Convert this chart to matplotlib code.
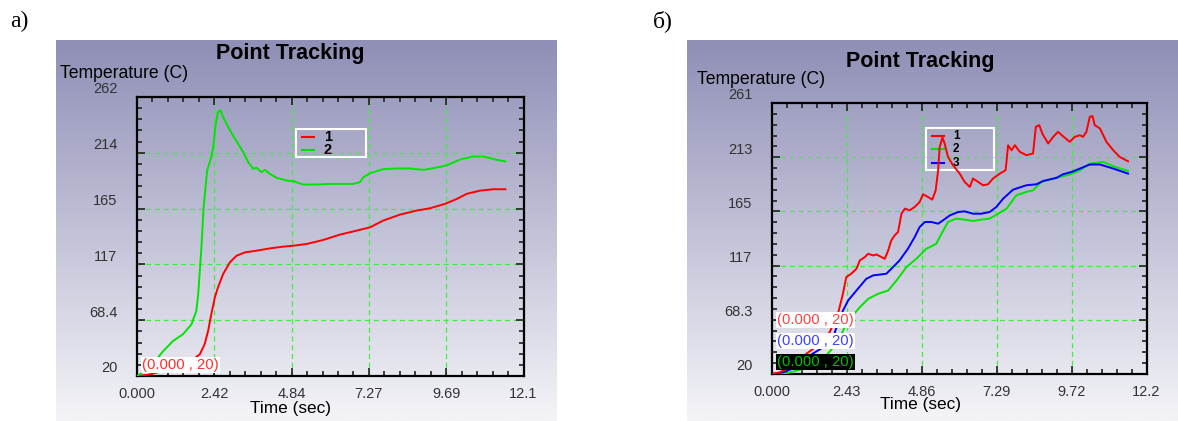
import matplotlib
matplotlib.use('Agg')
import matplotlib.pyplot as plt
import matplotlib.transforms as mtransforms
from matplotlib.patches import Rectangle
from matplotlib.lines import Line2D
import numpy as np

# Panel a): two tracking points
t_a_green = [0, 0.40, 0.82, 1.13, 1.44, 1.71, 1.86, 1.92, 2.02, 2.09, 2.20, 2.33, 2.39, 2.47,
             2.54, 2.62, 2.70, 2.86, 3.01, 3.17, 3.33, 3.49, 3.64, 3.75, 3.90, 4.01, 4.17,
             4.38, 4.69, 4.90, 5.21, 5.63, 6.05, 6.47, 6.78, 6.99, 7.10, 7.31, 7.72, 8.14,
             8.56, 8.98, 9.19, 9.71, 10.13, 10.55, 10.86, 11.28, 11.55]
T_a_green = [20, 27.2, 41.6, 50.4, 56.2, 64.9, 76.5, 91.0, 131.6, 166.4, 198.2, 209.8, 218.5,
             238.8, 249.0, 250.4, 244.6, 235.9, 228.6, 221.4, 214.2, 205.5, 199.7, 200.6,
             196.8, 198.8, 195.3, 191.9, 189.5, 189.0, 186.1, 186.1, 186.6, 186.6, 186.6,
             188.1, 192.4, 195.9, 199.4, 200.0, 200.0, 198.8, 199.7, 202.6, 207.8, 210.4,
             210.4, 207.5, 206.1]
t_a_red = [0, 0.40, 0.82, 1.34, 1.76, 1.97, 2.12, 2.23, 2.33, 2.44, 2.54, 2.70, 2.91, 3.12,
           3.38, 3.75, 4.17, 4.58, 4.90, 5.32, 5.84, 6.36, 6.89, 7.31, 7.72, 8.25, 8.77,
           9.19, 9.66, 10.03, 10.34, 10.76, 11.18, 11.55]
T_a_red = [20, 21.4, 24.3, 28.7, 34.5, 38.8, 47.5, 59.1, 73.6, 88.1, 96.8, 108.4, 118.5,
           124.3, 127.2, 128.7, 130.7, 132.2, 133.0, 134.5, 138.0, 142.6, 146.1, 149.0,
           154.8, 160.0, 163.5, 165.5, 169.3, 173.6, 178.0, 180.8, 182.0, 182.0]

# Panel б): three tracking points
t_b_red = [0, 0.25, 0.68, 1.11, 1.55, 1.87, 2.14, 2.30, 2.41, 2.57, 2.74, 2.85, 3.01, 3.12,
           3.28, 3.39, 3.66, 3.77, 3.87, 3.98, 4.09, 4.20, 4.31, 4.47, 4.63, 4.79, 4.90,
           5.06, 5.20, 5.31, 5.39, 5.44, 5.53, 5.60, 5.71, 5.87, 6.09, 6.25, 6.42, 6.52,
           6.69, 6.85, 7.01, 7.17, 7.39, 7.58, 7.66, 7.77, 7.88, 8.04, 8.25, 8.47, 8.56,
           8.67, 8.77, 8.96, 9.12, 9.28, 9.44, 9.66, 9.82, 9.99, 10.09, 10.20, 10.31, 10.40,
           10.47, 10.64, 10.85, 11.07, 11.28, 11.55]
T_b_red = [20, 21.5, 27.4, 37.9, 46.8, 57.2, 73.6, 91.4, 106.3, 109.3, 113.7, 121.2, 124.1,
           127.1, 125.6, 126.5, 122.6, 130.1, 139.0, 143.5, 146.5, 162.8, 167.3, 165.8,
           168.8, 173.2, 180.1, 177.7, 175.3, 183.6, 201.5, 222.3, 230.7, 225.3, 213.4,
           206.0, 198.5, 191.1, 186.6, 194.1, 191.1, 188.1, 189.0, 194.1, 198.5, 201.5,
           223.8, 219.3, 223.8, 217.9, 214.9, 216.4, 240.2, 241.7, 234.2, 225.3, 231.2,
           235.7, 231.8, 226.8, 231.2, 232.7, 231.2, 235.7, 249.1, 249.7, 241.7, 238.7,
           226.8, 219.3, 213.4, 209.5]
t_b_blue = [0, 0.36, 0.79, 1.22, 1.66, 1.98, 2.25, 2.47, 2.74, 3.06, 3.28, 3.71, 3.87, 4.14,
            4.41, 4.63, 4.79, 4.96, 5.17, 5.39, 5.55, 5.77, 6.04, 6.25, 6.52, 6.79, 7.06,
            7.28, 7.50, 7.82, 8.25, 8.58, 8.80, 9.23, 9.44, 9.72, 9.99, 10.31, 10.64, 11.07,
            11.55]
T_b_blue = [20, 21.5, 26.0, 36.4, 43.8, 52.7, 73.6, 85.5, 94.4, 104.8, 107.8, 109.3, 113.7,
            121.2, 131.6, 142.0, 150.9, 155.4, 155.4, 153.9, 156.9, 161.3, 164.3, 164.9,
            162.8, 162.8, 164.3, 168.8, 176.2, 184.2, 188.1, 189.0, 192.0, 194.7, 197.9,
            200.0, 203.0, 206.6, 206.6, 203.0, 198.5]
t_b_green = [0, 0.47, 1.01, 1.66, 2.09, 2.36, 2.57, 2.85, 3.12, 3.44, 3.77, 4.04, 4.36, 4.68,
             5.01, 5.33, 5.50, 5.71, 5.98, 6.25, 6.52, 6.79, 7.06, 7.34, 7.61, 7.93, 8.25,
             8.47, 8.74, 9.23, 9.66, 9.99, 10.31, 10.74, 11.07, 11.55]
T_b_green = [20, 20.6, 24.5, 33.4, 46.8, 61.7, 70.6, 79.5, 86.9, 91.4, 94.4, 103.3, 115.2,
             122.6, 131.6, 136.0, 145.0, 155.4, 158.4, 157.5, 156.3, 157.5, 158.4, 162.8,
             167.3, 179.2, 182.2, 183.6, 191.1, 194.9, 197.6, 201.5, 207.4, 208.9, 205.1,
             200.9]

# Axis ticks and labels
xticks_a = [0, 2.424, 4.848, 7.272, 9.696, 12.12]
xlabels_a = ['0.000', '2.42', '4.84', '7.27', '9.69', '12.1']
yticks_a = [20, 68.4, 116.8, 165.2, 213.6, 262]
ylabels_a = ['20', '68.4', '117', '165', '214', '262']
xticks_b = [0, 2.43, 4.86, 7.29, 9.72, 12.15]
xlabels_b = ['0.000', '2.43', '4.86', '7.29', '9.72', '12.2']
yticks_b = [20, 68.28, 116.56, 164.84, 213.12, 261.4]
ylabels_b = ['20', '68.3', '117', '165', '213', '261']

W, H = 1178, 421
fig = plt.figure(figsize=(W / 100, H / 100), dpi=100)
fig.patch.set_facecolor('white')


def px(x, y):
    return x / W, 1 - y / H


def box(x0, y0, x1, y1):
    return [x0 / W, 1 - y1 / H, (x1 - x0) / W, (y1 - y0) / H]


# gradient backgrounds
top = np.array([143, 143, 183]) / 255
bot = np.array([244, 244, 248]) / 255
g = np.linspace(0, 1, 256)[:, None]
grad = (top[None, :] * (1 - g) + bot[None, :] * g)[:, None, :]
for rect in [box(56, 40, 557, 421), box(687, 40, 1178, 421)]:
    bg = fig.add_axes(rect, zorder=0)
    bg.imshow(grad, aspect='auto', extent=[0, 1, 0, 1], interpolation='bilinear')
    bg.axis('off')

sans = ['Liberation Sans', 'DejaVu Sans']
grid_col = '#3ef03e'


def setup(ax, xticks, xlabels, yticks, ylabels):
    ax.set_facecolor('none')
    ax.set_xlim(xticks[0], xticks[-1])
    ax.set_ylim(yticks[0], yticks[-1])
    ax.set_xticks(xticks)
    ax.set_xticklabels(xlabels)
    ax.set_yticks(yticks)
    ax.set_yticklabels(ylabels)
    dx = (xticks[1] - xticks[0]) / 5
    dy = (yticks[1] - yticks[0]) / 5
    ax.set_xticks(np.arange(xticks[0], xticks[-1] + dx / 2, dx), minor=True)
    ax.set_yticks(np.arange(yticks[0], yticks[-1] + dy / 2, dy), minor=True)
    ax.tick_params(which='both', direction='in', top=True, right=True, width=1.2,
                   color='#202020', labelsize=10.5, labelcolor='#333333')
    ax.tick_params(which='major', length=6)
    ax.tick_params(which='minor', length=3.5)
    ax.tick_params(axis='y', pad=14)
    ax.tick_params(axis='x', pad=8)
    for lab in ax.get_xticklabels() + ax.get_yticklabels():
        lab.set_family(sans)
    off = mtransforms.ScaledTranslation(0, 0.09, fig.dpi_scale_trans)
    for lab in ax.get_yticklabels():
        lab.set_transform(lab.get_transform() + off)
    for s in ax.spines.values():
        s.set_linewidth(1.6)
        s.set_color('black')
    for v in xticks[1:-1]:
        ax.axvline(v, color=grid_col, lw=0.9, ls=(0, (4, 3)), zorder=1)
    for v in yticks[1:-1]:
        ax.axhline(v, color=grid_col, lw=0.9, ls=(0, (4, 3)), zorder=1)


def legend(ax, x0, x1, y0, y1, entries, fs):
    ax.add_patch(Rectangle((x0, y0), x1 - x0, y1 - y0, transform=ax.transAxes,
                           fill=False, edgecolor='white', lw=1.5, zorder=3))
    for yy, col, lab in entries:
        ax.add_line(Line2D([x0 + 0.016, x0 + 0.048], [yy, yy], color=col, lw=1.5,
                           transform=ax.transAxes, zorder=3))
        ax.text(x0 + 0.072, yy, lab, transform=ax.transAxes, fontsize=fs,
                fontweight='bold', va='center', ha='left', family=sans, zorder=3)


def tag(ax, y, col, bgc):
    ax.text(0.013, y, '(0.000 , 20)', transform=ax.transAxes, color=col, fontsize=10.7,
            va='center', ha='left', family=sans, zorder=6,
            bbox=dict(boxstyle='square,pad=0.08', fc=bgc, ec='none'))


# ---- panel a)
ax1 = fig.add_axes(box(137, 97, 523.5, 376), zorder=2)
setup(ax1, xticks_a, xlabels_a, yticks_a, ylabels_a)
legend(ax1, 0.411, 0.592, 0.784, 0.885,
       [(0.858, '#ff0000', '1'), (0.811, '#00e000', '2')], 10.5)
ax1.plot(t_a_red, T_a_red, color='#ff0000', lw=1.4, zorder=4)
ax1.plot(t_a_green, T_a_green, color='#00e600', lw=1.4, zorder=4)
tag(ax1, 0.04, '#ff3030', 'white')

# ---- panel б)
ax2 = fig.add_axes(box(772, 103, 1146.5, 374), zorder=2)
setup(ax2, xticks_b, xlabels_b, yticks_b, ylabels_b)
legend(ax2, 0.411, 0.592, 0.752, 0.906,
       [(0.880, '#ff0000', '1'), (0.830, '#00e000', '2'), (0.780, '#0000ff', '3')], 8.5)
ax2.plot(t_b_green, T_b_green, color='#00e600', lw=1.4, zorder=4)
ax2.plot(t_b_blue, T_b_blue, color='#0000ff', lw=1.4, zorder=4)
ax2.plot(t_b_red, T_b_red, color='#ff0000', lw=1.4, zorder=4)
tag(ax2, 0.199, '#ff4040', 'white')
tag(ax2, 0.122, '#4040ff', 'white')
tag(ax2, 0.044, '#00c000', 'black')

# titles and axis names
for cx, cy in [(290, 54), (920, 62)]:
    fig.text(*px(cx, cy), 'Point Tracking', ha='center', va='center', fontsize=15.5,
             fontweight='bold', family=sans, zorder=5)
for lx, ly in [(60, 73), (697, 80)]:
    fig.text(*px(lx, ly), 'Temperature (C)', ha='left', va='center', fontsize=12.7,
             family=sans, zorder=5)
for cx, cy in [(290, 408), (921, 405)]:
    fig.text(*px(cx, cy), 'Time (sec)', ha='center', va='center', fontsize=12.4,
             family=sans, zorder=5)

fig.text(*px(10, 21), 'a)', ha='left', va='center', fontsize=17, family='Liberation Serif')
fig.text(*px(653, 21), 'б)', ha='left', va='center', fontsize=17, family='Liberation Serif')

fig.savefig('out.png', dpi=100)
